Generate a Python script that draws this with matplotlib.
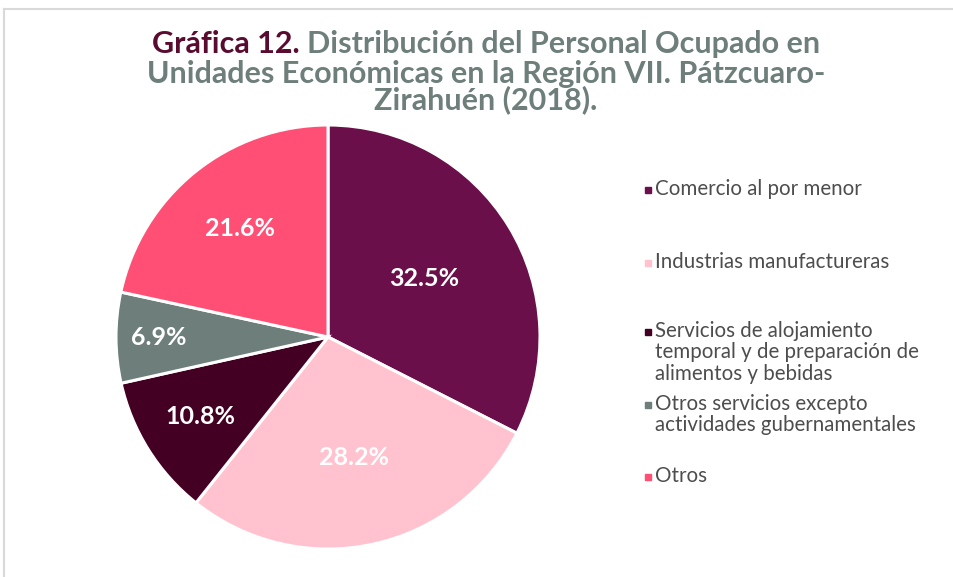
import matplotlib
matplotlib.use("Agg")
import matplotlib.pyplot as plt
from matplotlib.lines import Line2D
from matplotlib.patches import Rectangle
import numpy as np

categories = ["Comercio al por menor",
              "Industrias manufactureras",
              "Servicios de alojamiento\ntemporal y de preparación de\nalimentos y bebidas",
              "Otros servicios excepto\nactividades gubernamentales",
              "Otros"]
values = [32.5, 28.2, 10.8, 6.9, 21.6]
colors = ["#6A0F49", "#FFC2CE", "#430022", "#6D7E7B", "#FF4F75"]
label_dist = [0.53, 0.58, 0.71, 0.80, 0.66]

W, H = 954, 577
fig = plt.figure(figsize=(W / 100, H / 100), dpi=100)
fig.patch.set_facecolor("white")

# frame lines (top and left)
fig.add_artist(Line2D([4 / W, 1], [1 - 9 / H, 1 - 9 / H], color="#D9D9D9", lw=1.5))
fig.add_artist(Line2D([4 / W, 4 / W], [0, 1 - 9 / H], color="#D9D9D9", lw=1.5))

# pie axes
cx, cy, r = 328, 337, 212
ax = fig.add_axes([(cx - r) / W, 1 - (cy + r) / H, 2 * r / W, 2 * r / H])
wedges, _ = ax.pie(values, colors=colors, startangle=90, counterclock=False,
                   wedgeprops=dict(edgecolor="white", linewidth=2.2))
ax.set_aspect("equal")
ax.set_xlim(-1, 1)
ax.set_ylim(-1, 1)
for w, v, d in zip(wedges, values, label_dist):
    ang = np.deg2rad((w.theta1 + w.theta2) / 2)
    ax.text(d * np.cos(ang), d * np.sin(ang), f"{v}%", ha="center", va="center",
            color="white", fontsize=18, fontweight="bold", family="Lato")

# title (two colours)
title_lines = [("Gráfica 12. ", "Distribución del Personal Ocupado en"),
               ("", "Unidades Económicas en la Región VII. Pátzcuaro-"),
               ("", "Zirahuén (2018).")]
title_y = [44, 74, 100]
title_cx = 486
fs_title = 22
renderer = fig.canvas.get_renderer()
for (a, b), yy in zip(title_lines, title_y):
    ta = fig.text(0, 1 - yy / H, a, color="#5A0C30", fontsize=fs_title, fontweight="bold",
                  family="Lato", va="center", ha="left")
    tb = fig.text(0, 1 - yy / H, b, color="#6D7E7B", fontsize=fs_title, fontweight="bold",
                  family="Lato", va="center", ha="left")
    wa = ta.get_window_extent(renderer).width if a else 0
    wb = tb.get_window_extent(renderer).width
    x0 = title_cx - (wa + wb) / 2
    ta.set_x(x0 / W)
    tb.set_x((x0 + wa) / W)

# legend
leg_y = [190, 263, 332, 405, 477]
for lab, col, yy in zip(categories, colors, leg_y):
    fig.add_artist(Rectangle((645 / W, 1 - (yy + 3) / H), 6 / W, 6 / H, color=col,
                             transform=fig.transFigure))
    fig.text(655 / W, 1 - (yy - 11) / H, lab, color="#4D4D4D", fontsize=14.8,
             family="Lato", va="top", ha="left", linespacing=1.09)

fig.savefig("out.png", dpi=100)
